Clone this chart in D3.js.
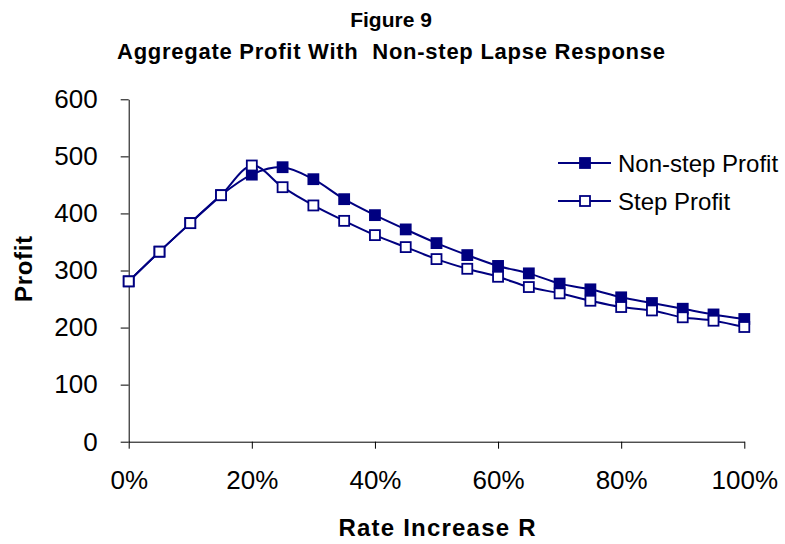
<!DOCTYPE html>
<html>
<head>
<meta charset="utf-8">
<script src="https://cdn.jsdelivr.net/npm/d3@7"></script>
<style>
  body { margin: 0; background: #fff; }
  svg { display: block; font-family: "Liberation Sans", Arial, sans-serif; }
</style>
</head>
<body>
<svg id="chart" width="785" height="544"></svg>
<script>
// rate increase R (fraction) and profits
const rates = [0, 0.05, 0.10, 0.15, 0.20, 0.25, 0.30, 0.35, 0.40, 0.45, 0.50,
               0.55, 0.60, 0.65, 0.70, 0.75, 0.80, 0.85, 0.90, 0.95, 1.00];
const nonStepProfit = [281, 333, 383, 432, 468, 481, 460, 425, 397, 372, 348,
                       327, 308, 295, 277, 267, 253, 243, 233, 223, 215];
const stepProfit = [281, 333, 383, 432, 484, 446, 414, 387, 362, 341, 320,
                    303, 289, 271, 260, 247, 236, 230, 218, 212, 201];
const yTicks = [0, 100, 200, 300, 400, 500, 600];
const xTicks = [0, 0.2, 0.4, 0.6, 0.8, 1.0];

const navy = "#000080";
const svg = d3.select("#chart");

const x = d3.scaleLinear().domain([0, 1]).range([128.7, 744.3]);
const y = d3.scaleLinear().domain([0, 600]).range([441.7, 99.3]);

// titles
svg.append("text")
  .attr("x", 391).attr("y", 27)
  .attr("text-anchor", "middle")
  .style("font-size", "21px").style("font-weight", "bold")
  .text("Figure 9");
svg.append("text")
  .attr("x", 391).attr("y", 59)
  .attr("text-anchor", "middle")
  .attr("textLength", 548).attr("lengthAdjust", "spacing")
  .style("white-space", "pre")
  .style("font-size", "22px").style("font-weight", "bold")
  .text("Aggregate Profit With  Non-step Lapse Response");

// axes
const yAxis = svg.append("g")
  .attr("transform", `translate(${x(0)},0)`)
  .call(d3.axisLeft(y).tickValues(yTicks).tickSize(8).tickSizeOuter(0).tickPadding(23));
const xAxis = svg.append("g")
  .attr("transform", `translate(0,${y(0)})`)
  .call(d3.axisBottom(x).tickValues(xTicks).tickSize(7).tickSizeOuter(0).tickPadding(22)
    .tickFormat(d3.format(".0%")));

[yAxis, xAxis].forEach(g => {
  g.selectAll("path, line").attr("stroke", "#000").attr("stroke-width", 1);
  g.selectAll("text").attr("fill", "#000").style("font-size", "26px")
    .style("font-family", "'Liberation Sans', Arial, sans-serif");
});

svg.append("text")
  .attr("transform", "translate(32,269) rotate(-90)")
  .attr("text-anchor", "middle")
  .attr("textLength", 66).attr("lengthAdjust", "spacing")
  .style("font-size", "24px").style("font-weight", "bold")
  .text("Profit");
svg.append("text")
  .attr("x", 437).attr("y", 536)
  .attr("text-anchor", "middle")
  .attr("textLength", 197).attr("lengthAdjust", "spacing")
  .style("font-size", "24px").style("font-weight", "bold")
  .text("Rate Increase R");

// series
const series = [
  { name: "Non-step Profit", values: nonStepProfit, fill: navy },
  { name: "Step Profit", values: stepProfit, fill: "#fff" }
];

const line = d3.line()
  .x((d, i) => x(rates[i]))
  .y(d => y(d))
  .curve(d3.curveCatmullRom.alpha(0));

series.forEach(s => {
  svg.append("path")
    .datum(s.values)
    .attr("fill", "none")
    .attr("stroke", navy)
    .attr("stroke-width", 2)
    .attr("d", line);
  svg.append("g").selectAll("rect")
    .data(s.values)
    .join("rect")
    .attr("x", (d, i) => x(rates[i]) - 5)
    .attr("y", d => y(d) - 5)
    .attr("width", 10).attr("height", 10)
    .attr("fill", s.fill)
    .attr("stroke", navy)
    .attr("stroke-width", 1.8);
});

// legend
const legend = svg.append("g").attr("transform", "translate(558,0)");
series.forEach((s, i) => {
  const ly = 163 + i * 38;
  legend.append("line")
    .attr("x1", 0).attr("x2", 53).attr("y1", ly).attr("y2", ly)
    .attr("stroke", navy).attr("stroke-width", 2);
  legend.append("rect")
    .attr("x", 22).attr("y", ly - 5).attr("width", 10).attr("height", 10)
    .attr("fill", s.fill).attr("stroke", navy).attr("stroke-width", 1.8);
  legend.append("text")
    .attr("x", 60).attr("y", ly + 9)
    .style("font-size", "24px")
    .text(s.name);
});
</script>
</body>
</html>
